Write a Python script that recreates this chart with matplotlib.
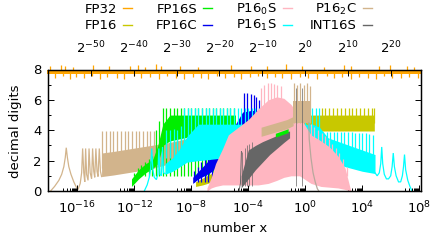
import numpy as np
import matplotlib
matplotlib.use('Agg')
import matplotlib.pyplot as plt
from matplotlib.lines import Line2D

plt.rcParams['font.family'] = 'DejaVu Sans'
plt.rcParams['font.size'] = 9.5

# all x values are log10(x), y values are decimal digits

# FP32 (orange) - noisy band close to 8
fp32_lx = [-18.1, 8.2]
fp32_lo = [7.68, 7.68]
fp32_hi = [7.98, 7.98]
fp32_up_lx = [-17.89, -17.18, -16.9, -16.34, -14.93, -13.8, -12.32, -11.76, -11.27, -10.49,
              -10.14, -8.8, -7.54, -5.21, -3.8, -2.68, -1.34, -0.21, 1.34, 2.75, 3.24, 5.21,
              5.92, 7.11, 7.61]
fp32_up = [8.25, 8.3, 8.2, 8.15, 8.3, 8.25, 8.2, 8.3, 8.15, 8.35, 8.2, 8.25, 8.15, 8.3, 8.2,
           8.25, 8.35, 8.2, 8.15, 8.3, 8.2, 8.25, 8.3, 8.2, 8.15]
fp32_dn_lx = [-17.6, -17.0, -16.5, -16.1, -15.5, -15.0, -14.4, -13.9, -13.2, -12.7, -12.0,
              -11.5, -10.9, -10.3, -9.7, -9.1, -8.5, -7.9, -7.3, -6.8, -6.2, -5.6, -5.0, -4.5,
              -3.9, -3.3, -2.7, -2.1, -1.6, -1.0, -0.4, 0.2, 0.8, 1.5, 2.0, 2.6, 3.2, 3.8, 4.4,
              5.0, 5.5, 6.1, 6.7, 7.3, 7.9]
fp32_dn = [7.45, 7.55, 7.38, 7.5, 7.42, 7.58, 7.4, 7.52, 7.46, 7.36, 7.55, 7.44, 7.5, 7.4,
           7.56, 7.45, 7.38, 7.52, 7.47, 7.4, 7.55, 7.43, 7.5, 7.37, 7.48, 7.56, 7.42, 7.5,
           7.45, 7.38, 7.53, 7.46, 7.4, 7.55, 7.44, 7.5, 7.38, 7.52, 7.45, 7.4, 7.56, 7.47,
           7.42, 7.5, 7.45]

# FP16 (olive)
fp16_lx = [-7.7, -7.2, -6.7, -6.2, -5.7, -5.2, -4.7, -4.2, 4.85]
fp16_lo = [0.3, 0.4, 0.55, 0.75, 1.1, 2.0, 3.0, 3.95, 3.95]
fp16_hi = [0.6, 0.85, 1.1, 1.35, 1.9, 3.2, 4.4, 5.0, 5.0]
fp16_sp_lx = [1.15, 1.42, 1.69, 1.96, 2.23, 2.5, 2.77, 3.04, 3.31, 3.58, 3.85, 4.12, 4.39, 4.66, 4.84]
fp16_sp = [5.45] * 15

# FP16S (green)
fp16s_lx = [-12.2, -11.7, -11.2, -10.7, -10.35, -10.0, -9.5, -8.5, -7.5, -6.5, -5.5, -4.9]
fp16s_lo = [0.3, 0.8, 1.2, 1.5, 1.8, 3.0, 3.3, 3.5, 3.7, 3.9, 4.1, 4.2]
fp16s_hi = [0.8, 1.4, 1.8, 2.1, 3.0, 4.4, 5.0, 5.0, 5.0, 5.0, 5.0, 5.0]
fp16s_sp_lx = [-12.0, -11.75, -11.5, -11.25, -11.0, -10.75, -10.5, -10.25, -10.0, -9.75, -9.5,
               -9.25, -9.0, -8.75, -8.5, -8.25, -8.0, -7.75, -7.5, -7.25, -7.0, -6.75, -6.5,
               -6.25, -6.0, -5.75, -5.5, -5.25, -5.0]
fp16s_sp = [1.2, 1.5, 1.7, 1.9, 2.1, 2.3, 4.0, 4.6, 5.45, 5.45, 5.45, 5.45, 5.45, 5.45, 5.45,
            5.45, 5.45, 5.45, 5.45, 5.45, 5.45, 5.45, 5.45, 5.45, 5.45, 5.45, 5.45, 5.45, 5.45]
fp16s_patch_lx = [-2.1, -1.2]
fp16s_patch_lo = [3.55, 3.85]
fp16s_patch_hi = [3.8, 4.1]

# FP16C (blue)
fp16c_lx = [-7.9, -7.5, -7.1, -6.7, -6.3, -5.9, -5.4, -4.9, -4.4, -3.8, -3.2]
fp16c_lo = [0.5, 0.8, 1.0, 1.2, 1.5, 1.8, 2.4, 3.2, 4.0, 4.4, 4.6]
fp16c_hi = [0.9, 1.3, 1.7, 2.1, 2.4, 2.7, 3.5, 4.4, 5.2, 5.3, 5.3]
fp16c_sp_lx = [-7.8, -7.55, -7.3, -7.05, -6.8, -6.55, -6.3, -6.05, -4.3, -4.06, -3.82, -3.59,
               -3.43, -3.24]
fp16c_sp = [1.3, 1.6, 1.9, 2.1, 2.4, 2.6, 2.8, 3.0, 6.43, 6.43, 6.38, 6.32, 6.21, 5.99]

# P16_0S (pink)
p160s_lx = [-6.9, -6.6, -6.3, -5.8, -5.4, -4.7, -4.0, -3.3, -2.6, -2.0, -1.5, -1.0, -0.4,
            0.4, 1.1, 1.7, 2.3, 2.8, 3.2]
p160s_lo = [0.0, 0.2, 0.3, 0.4, 0.4, 0.4, 0.4, 0.4, 0.5, 0.7, 0.9, 1.0, 1.0, 0.5, 0.3, 0.25,
            0.2, 0.1, 0.0]
p160s_hi = [0.2, 0.9, 1.8, 2.8, 3.7, 4.2, 4.7, 5.4, 6.0, 6.2, 6.1, 5.7, 4.9, 3.7, 3.3, 2.9,
            2.3, 1.5, 0.0]
p160s_sp_lx = [-3.1, -2.87, -2.64, -2.41, -2.18, -1.95, -1.72, 0.4, 0.65, 0.9, 1.15, 1.4,
               1.65, 1.9, 2.15, 2.4, 2.65, 2.9]
p160s_sp = [6.8, 7.0, 7.1, 7.1, 7.05, 7.0, 6.9, 4.4, 4.2, 4.0, 3.8, 3.6, 3.4, 3.1, 2.8, 2.5,
            2.1, 1.6]

# P16_1S (cyan)
p161s_head_lx = [-11.3, -11.1, -10.95, -10.85, -10.78, -10.7, -10.6, -10.45, -10.35, -10.28,
                 -10.2, -10.1, -10.02, -9.95, -9.85]
p161s_head = [0.0, 0.4, 0.9, 1.5, 2.8, 1.4, 0.9, 0.75, 1.1, 2.8, 1.1, 1.0, 2.9, 1.2, 1.15]
p161s_lx = [-9.85, -9.3, -8.8, -8.3, -7.5, -6.5, -5.5, -4.5, -3.5, -2.5, -1.5, -0.5, 0.5,
            1.0, 1.6, 2.2, 2.8, 3.4, 4.0, 4.6, 4.9]
p161s_lo = [1.1, 1.3, 1.6, 1.9, 2.0, 2.1, 2.2, 2.5, 2.8, 3.0, 3.0, 2.9, 2.6, 2.4, 2.0, 1.8,
            1.6, 1.45, 1.3, 1.2, 1.15]
p161s_hi = [1.8, 2.2, 2.8, 3.6, 4.4, 4.4, 4.4, 4.4, 4.4, 4.4, 4.4, 4.4, 4.4, 4.2, 3.5, 3.3,
            3.1, 2.9, 2.7, 2.5, 2.4]
p161s_sp_lx = [-9.75, -9.5, -9.25, -9.0, -8.75, -8.5, -8.25, -8.0, -7.75, -7.5, -7.25, -7.0,
               -6.75, -6.5, -6.25, -6.0, -5.75, -5.5, -5.25, -5.0, -4.75, -4.5, -4.25, -4.0,
               -3.75, -3.5, -3.25, -3.0, -2.75, -2.5, -2.25, -2.0, -1.75, -1.5, -1.25, -1.0,
               -0.75, -0.5, -0.25, 0.0, 0.25, 0.5, 0.75, 1.0, 1.25, 1.5, 1.75, 2.0, 2.25, 2.5,
               2.75, 3.0, 3.25, 3.5, 3.75, 4.0, 4.25, 4.5, 4.75]
p161s_sp = [4.0, 4.0, 4.05, 4.0, 4.3] + [5.45] * 39 + [3.9, 3.9, 3.9, 3.9, 3.9, 3.9, 3.9,
            3.9, 3.9, 3.85, 3.85, 3.8, 3.8, 3.75, 3.7]
p161s_tail_lx = [4.9, 5.05, 5.2, 5.3, 5.37, 5.44, 5.55, 5.7, 5.85, 6.0, 6.1, 6.18, 6.26, 6.38,
                 6.55, 6.7, 6.82, 6.9, 6.97, 7.05, 7.2, 7.35, 7.5]
p161s_tail = [1.2, 1.0, 1.2, 1.8, 2.9, 1.8, 1.1, 0.8, 0.8, 1.0, 1.6, 2.5, 1.6, 1.0, 0.6, 0.6,
              1.0, 1.6, 2.4, 1.4, 0.7, 0.3, 0.0]

# P16_2C (tan)
p162c_head_lx = [-17.88, -17.6, -17.3, -17.1, -16.95, -16.85, -16.78, -16.7, -16.6, -16.45,
                 -16.25, -16.05, -15.95, -15.8, -15.7, -15.63, -15.55, -15.48, -15.42, -15.35,
                 -15.25, -15.18, -15.1, -15.0, -14.93, -14.85, -14.78, -14.7, -14.62, -14.55,
                 -14.46, -14.38, -14.3]
p162c_head = [0.0, 0.3, 0.7, 1.1, 1.6, 2.2, 2.85, 2.2, 1.6, 1.1, 0.6, 0.2, 0.1, 0.5, 1.2, 2.8,
              1.2, 0.6, 2.8, 1.1, 0.7, 2.8, 1.2, 0.8, 2.8, 1.3, 0.9, 2.8, 1.3, 0.95, 2.8, 1.3,
              0.95]
p162c_lx = [-14.3, -13.5, -12.5, -11.5, -10.5, -9.5, -8.5, -7.5, -6.0, -4.5, -3.1]
p162c_lo = [0.95, 1.05, 1.2, 1.35, 1.55, 1.8, 2.1, 2.4, 2.9, 3.3, 3.6]
p162c_hi = [2.5, 2.6, 2.75, 2.9, 3.05, 3.2, 3.4, 3.6, 3.9, 4.1, 4.2]
p162c_sp_lx = [-14.25, -13.99, -13.73, -13.47, -13.21, -12.95, -12.69, -12.43, -12.17, -11.91,
               -11.65, -11.39, -11.13, -10.87, -10.61]
p162c_sp = [3.97] * 15
p162c_mid_lx = [-3.1, -2.2, -1.3, -0.85]
p162c_mid_lo = [3.6, 3.85, 4.1, 4.3]
p162c_mid_hi = [4.2, 4.45, 4.7, 4.9]
p162c_top_lx = [-0.85, 0.3]
p162c_top_lo = [4.5, 4.5]
p162c_top_hi = [5.9, 5.9]
p162c_top_sp_lx = [-0.8, -0.57, -0.34, -0.11, 0.12, 0.3]
p162c_top_sp = [7.08, 7.0, 7.08, 7.0, 7.08, 6.9]
p162c_tail_lx = [0.25, 0.28, 0.4, 0.55, 0.7, 0.85, 0.95]
p162c_tail = [4.5, 3.4, 2.2, 1.2, 0.6, 0.15, 0.0]

# INT16S (gray)
int16s_head_lx = [-4.65, -4.55, -4.48]
int16s_head = [0.0, 0.5, 2.6]
int16s_lx = [-4.5, -4.0, -3.5, -3.0, -2.5, -2.0, -1.5, -1.1]
int16s_lo = [0.2, 0.8, 1.4, 1.9, 2.4, 2.8, 3.2, 3.5]
int16s_hi = [1.0, 2.7, 3.0, 3.25, 3.45, 3.65, 3.85, 3.95]
int16s_sp_lx = [-4.45, -4.25, -4.1, -3.93, -3.75, -0.68, -0.22]
int16s_sp = [2.6, 2.8, 3.0, 3.1, 3.2, 6.8, 6.8]

colors = {'FP32': '#ffa500', 'FP16': '#c8c800', 'FP16S': '#00ee00', 'FP16C': '#0000ee',
          'P16_0S': '#ffb6c1', 'P16_1S': '#00ffff', 'P16_2C': '#d2b48c', 'INT16S': '#666666'}

fig = plt.figure(figsize=(4.36, 2.41), dpi=100)
ax = fig.add_axes([48 / 436, 50 / 241, 373 / 436, 121.5 / 241])


def band(lx, lo, hi, c, z, clip=True):
    ax.fill_between(10.0 ** np.array(lx), lo, hi, color=c, lw=0, zorder=z, clip_on=clip)


def spikes(lx, top, base, c, z, lw=0.9, clip=True):
    ax.vlines(10.0 ** np.array(lx), base, top, colors=c, lw=lw, zorder=z, clip_on=clip)


def curve(lx, d, c, z, lw=0.9):
    ax.plot(10.0 ** np.array(lx), d, color=c, lw=lw, zorder=z, solid_joinstyle='miter')


# FP32
band(fp32_lx, fp32_lo, fp32_hi, colors['FP32'], 1, clip=False)
spikes(fp32_up_lx, fp32_up, 7.8, colors['FP32'], 1, clip=False)
spikes(fp32_dn_lx, 7.8, fp32_dn, colors['FP32'], 1, clip=False)

# P16_2C left part (behind the others)
curve(p162c_head_lx, p162c_head, colors['P16_2C'], 1.1)
band(p162c_lx, p162c_lo, p162c_hi, colors['P16_2C'], 1.1)
spikes(p162c_sp_lx, p162c_sp, 1.5, colors['P16_2C'], 1.1)

# FP16S
band(fp16s_lx, fp16s_lo, fp16s_hi, colors['FP16S'], 1.2)
spikes(fp16s_sp_lx, fp16s_sp, 1.0, colors['FP16S'], 1.2)

# FP16 / FP16C
band(fp16_lx, fp16_lo, fp16_hi, colors['FP16'], 1.3)
spikes(fp16_sp_lx, fp16_sp, 4.5, colors['FP16'], 1.3)
band(fp16c_lx, fp16c_lo, fp16c_hi, colors['FP16C'], 1.4)
spikes(fp16c_sp_lx, fp16c_sp, 0.6, colors['FP16C'], 1.4)

# P16_1S
curve(p161s_head_lx, p161s_head, colors['P16_1S'], 1.5)
band(p161s_lx, p161s_lo, p161s_hi, colors['P16_1S'], 1.5)
spikes(p161s_sp_lx, p161s_sp, 2.2, colors['P16_1S'], 1.5)
curve(p161s_tail_lx, p161s_tail, colors['P16_1S'], 1.5)

# P16_0S
band(p160s_lx, p160s_lo, p160s_hi, colors['P16_0S'], 1.6)
spikes(p160s_sp_lx, p160s_sp, 1.0, colors['P16_0S'], 1.6)

# P16_2C right part
band(p162c_mid_lx, p162c_mid_lo, p162c_mid_hi, colors['P16_2C'], 1.7)
band(p162c_top_lx, p162c_top_lo, p162c_top_hi, colors['P16_2C'], 1.7)
spikes(p162c_top_sp_lx, p162c_top_sp, 4.5, colors['P16_2C'], 1.7)
curve(p162c_tail_lx, p162c_tail, '#b8a89c', 1.7)

# INT16S
curve(int16s_head_lx, int16s_head, colors['INT16S'], 1.8, lw=0.7)
band(int16s_lx, int16s_lo, int16s_hi, colors['INT16S'], 1.8)
spikes(int16s_sp_lx, int16s_sp, 0.3, colors['INT16S'], 1.8, lw=0.5)
band(fp16s_patch_lx, fp16s_patch_lo, fp16s_patch_hi, colors['FP16S'], 1.9)

# axes
ax.set_xscale('log')
ax.set_xlim(2.0 ** -60, 2.0 ** 27)
ax.set_ylim(0, 8)
for s in ax.spines.values():
    s.set_zorder(20)
    s.set_linewidth(0.9)

bot_exps = [-16, -12, -8, -4, 0, 4, 8]
ax.set_xticks([10.0 ** e for e in bot_exps])
ax.set_xticklabels([r'$\mathregular{10^{%d}}$' % e for e in bot_exps])
minor_x = [m * 10.0 ** (e - 1) for e in bot_exps for m in range(1, 10)]
ax.set_xticks(minor_x, minor=True)
ax.xaxis.set_minor_formatter(matplotlib.ticker.NullFormatter())
ax.set_yticks([0, 2, 4, 6, 8])
ax.set_yticks([1, 3, 5, 7], minor=True)
ax.tick_params(which='both', direction='in', top=False, right=True, width=0.7)
ax.tick_params(which='major', length=4.3)
ax.tick_params(which='minor', length=2.5)
ax.tick_params(axis='x', which='major', pad=6.5)
ax.tick_params(axis='y', which='major', pad=4.5)

ax2 = ax.twiny()
ax2.set_xscale('log')
ax2.set_xlim(ax.get_xlim())
top_exps = [-50, -40, -30, -20, -10, 0, 10, 20]
ax2.set_xticks([2.0 ** e for e in top_exps])
ax2.set_xticklabels([r'$\mathregular{2^{%d}}$' % e for e in top_exps])
ax2.xaxis.set_minor_locator(matplotlib.ticker.NullLocator())
ax2.tick_params(direction='in', length=4.3, width=0.7, pad=9.5)
for s in ax2.spines.values():
    s.set_linewidth(0.9)

fig.text(16 / 436, 1 - 131 / 241, 'decimal digits', rotation=90, ha='center', va='center')
fig.text(235 / 436, 1 - 229 / 241, 'number x', ha='center', va='center')

# key, two rows of four
key_names = [['FP32', 'FP16S', 'P16$_0$S', 'P16$_2$C'],
             ['FP16', 'FP16C', 'P16$_1$S', 'INT16S']]
key_cols = [['FP32', 'FP16S', 'P16_0S', 'P16_2C'],
            ['FP16', 'FP16C', 'P16_1S', 'INT16S']]
key_right = [117, 197, 277, 357]
key_base = [12.7, 29.3]
for r in range(2):
    for c in range(4):
        fig.text(key_right[c] / 436, 1 - key_base[r] / 241, key_names[r][c],
                 ha='right', va='baseline')
        y = 1 - (key_base[r] - 4.5) / 241
        fig.add_artist(Line2D([(key_right[c] + 6) / 436, (key_right[c] + 15) / 436], [y, y],
                              color=colors[key_cols[r][c]], lw=1.0))

fig.savefig('out.png', dpi=100)
